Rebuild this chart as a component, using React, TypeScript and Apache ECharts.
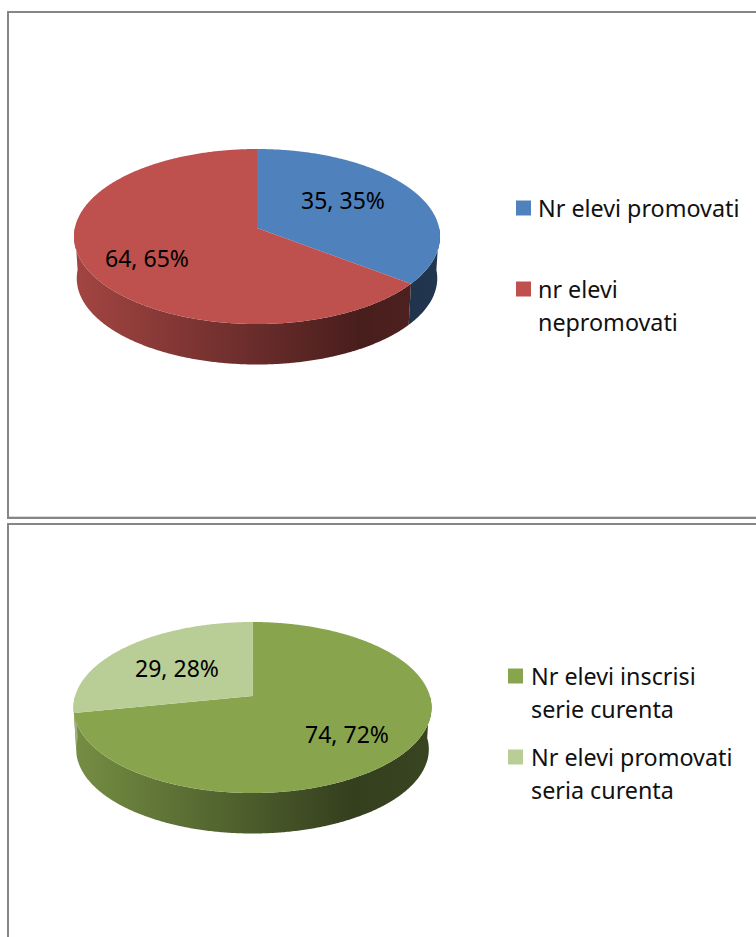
import React, { useEffect, useRef } from "react";
import * as echarts from "echarts";

const chart1Names = ["Nr elevi promovati", "nr elevi\nnepromovati"];
const chart1Values = [35, 64];
const chart1Colors = ["#4F81BD", "#BE504D"];
const chart2Names = ["Nr elevi inscrisi\nserie curenta", "Nr elevi promovati\nseria curenta"];
const chart2Values = [74, 29];
const chart2Colors = ["#88A54E", "#B9CD96"];

const FONT = "'Noto Sans'";
const LABEL_SIZE = 23;
const LEGEND_SIZE = 23.3;
const LINE_H = 33;

// Pie geometry: a projected disc with top, apex, bottom of the upper face and half-width
const pie1 = { cx: 257, top: 149, apex: 228, bottom: 324, halfW: 183, depth: 40.5, narrow: 0.985, labels: [[343, 200], [147, 258]] };
const pie2 = { cx: 252.5, top: 622, apex: 696, bottom: 793, halfW: 179, depth: 40.5, narrow: 0.985, labels: [[347, 734], [177, 668]] };

const legend1 = { swatchX: 516, textX: 538, rows: [208, 289] };
const legend2 = { swatchX: 508, textX: 531, rows: [676, 757] };

function shade(hex: string, k: number) {
  const n = parseInt(hex.slice(1), 16);
  const c = [(n >> 16) & 255, (n >> 8) & 255, n & 255].map((v) => Math.round(v * k));
  return `rgb(${c[0]},${c[1]},${c[2]})`;
}

function projector(p: typeof pie1) {
  const c = (2 * p.apex - p.top - p.bottom) / (p.bottom - p.top);
  const a = p.apex - p.top + p.top * c;
  const d = p.halfW * Math.sqrt(1 - c * c);
  return (deg: number, lower: boolean) => {
    const t = (deg * Math.PI) / 180;
    const u = Math.sin(t);
    const v = -Math.cos(t);
    const w = 1 + c * v;
    const x = (d * u) / w;
    const y = (a * v + p.apex) / w;
    if (!lower) return [p.cx + x, y];
    return [p.cx + x * p.narrow, p.apex + (y - p.apex) * p.narrow + p.depth + (p.bottom - p.apex) * (1 - p.narrow)];
  };
}

function pieSeries(name: string, p: typeof pie1, values: number[], colors: string[]) {
  const total = values.reduce((s, v) => s + v, 0);
  const project = projector(p);
  return {
    type: "custom",
    name,
    coordinateSystem: "none",
    silent: true,
    data: values.map((v) => [v]),
    renderItem: (params: any, api: any) => {
      const i = params.dataIndex;
      const v = api.value(0);
      const before = values.slice(0, i).reduce((s, x) => s + x, 0);
      const start = (before / total) * 360;
      const end = ((before + v) / total) * 360;
      const topPts: number[][] = [[p.cx, p.apex]];
      for (let a = start; a < end; a += 0.5) topPts.push(project(a, false));
      topPts.push(project(end, false));
      const children: any[] = [];
      const from = Math.max(start, 90);
      const to = Math.min(end, 270);
      if (to > from) {
        const upper: number[][] = [];
        const lower: number[][] = [];
        for (let a = from; a < to; a += 0.5) {
          upper.push(project(a, false));
          lower.push(project(a, true));
        }
        upper.push(project(to, false));
        lower.push(project(to, true));
        children.push({
          type: "polygon",
          z2: 1,
          shape: { points: upper.concat(lower.reverse()) },
          style: {
            fill: new echarts.graphic.LinearGradient(
              p.cx - p.halfW, 0, p.cx + p.halfW, 0,
              [
                { offset: 0, color: shade(colors[i], 0.86) },
                { offset: 0.78, color: shade(colors[i], 0.38) },
                { offset: 1, color: shade(colors[i], 0.42) },
              ],
              true
            ),
          },
        });
      }
      children.push({
        type: "polygon",
        z2: 2,
        shape: { points: topPts },
        style: { fill: colors[i] },
      });
      children.push({
        type: "text",
        z2: 3,
        style: {
          text: `${v}, ${Math.round((v / total) * 100)}%`,
          x: p.labels[i][0],
          y: p.labels[i][1],
          fill: "#000",
          font: `${LABEL_SIZE}px ${FONT}`,
          align: "center",
          verticalAlign: "middle",
        },
      });
      return { type: "group", children };
    },
  };
}

function legendGraphics(l: typeof legend1, names: string[], colors: string[]) {
  const out: any[] = [];
  names.forEach((n, i) => {
    out.push({
      type: "rect",
      shape: { x: l.swatchX, y: l.rows[i] - 7.5, width: 15, height: 15 },
      style: { fill: colors[i] },
    });
    n.split("\n").forEach((line, j) => {
      out.push({
        type: "text",
        style: {
          text: line,
          x: l.textX,
          y: l.rows[i] + j * LINE_H,
          fill: "#111",
          font: `${LEGEND_SIZE}px ${FONT}`,
          align: "left",
          verticalAlign: "middle",
        },
      });
    });
  });
  return out;
}

function frameLine(x1: number, y1: number, x2: number, y2: number, color: string, w: number) {
  return { type: "line", shape: { x1, y1, x2, y2 }, style: { stroke: color, lineWidth: w } };
}

export default function App() {
  const ref = useRef<HTMLDivElement>(null);
  useEffect(() => {
    const chart = echarts.init(ref.current!, null, { renderer: "svg" });
    chart.setOption({
      animation: false,
      backgroundColor: "#fff",
      graphic: [
        frameLine(8, 12, 756, 12, "#868686", 2),
        frameLine(8, 11, 8, 519, "#868686", 2),
        frameLine(7, 518, 756, 518, "#868686", 2),
        frameLine(9, 516.5, 756, 516.5, "#d9d9d9", 1),
        frameLine(8, 524, 756, 524, "#868686", 2),
        frameLine(8, 523, 8, 937, "#868686", 2),
        ...legendGraphics(legend1, chart1Names, chart1Colors),
        ...legendGraphics(legend2, chart2Names, chart2Colors),
      ],
      series: [
        pieSeries("Elevi promovati", pie1, chart1Values, chart1Colors),
        pieSeries("Elevi inscrisi", pie2, chart2Values, chart2Colors),
      ],
    });
    return () => chart.dispose();
  }, []);
  return <div ref={ref} style={{ position: "fixed", left: 0, top: 0, width: 756, height: 937 }} />;
}
